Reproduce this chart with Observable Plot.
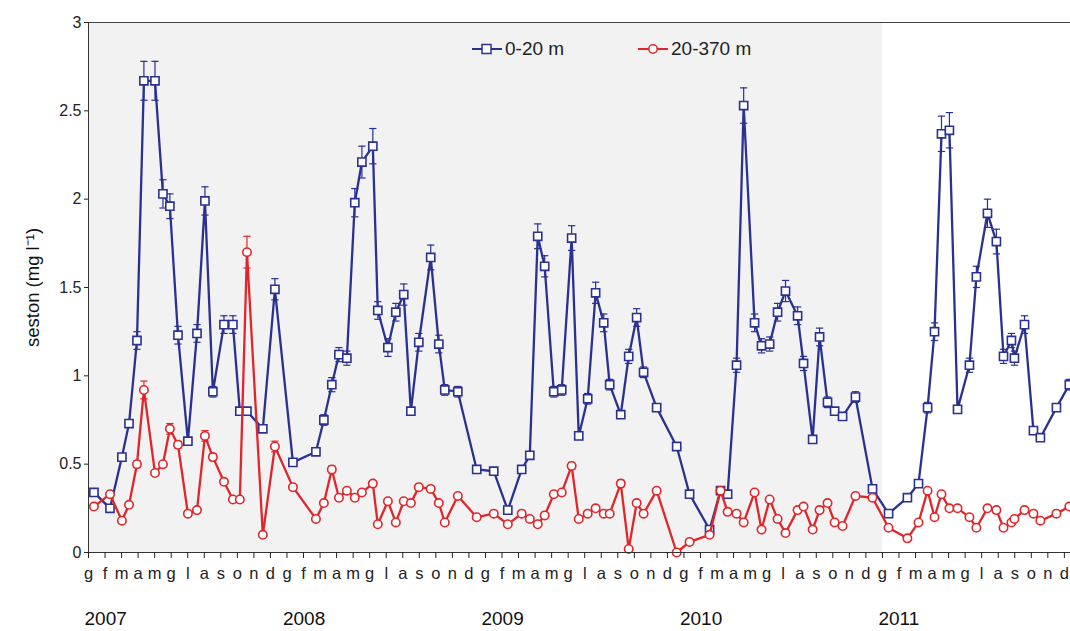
<!DOCTYPE html>
<html>
<head>
<meta charset="utf-8">
<script src="https://cdn.jsdelivr.net/npm/d3@7"></script>
<script src="https://cdn.jsdelivr.net/npm/@observablehq/plot@0.6"></script>
<style>
  html, body { margin: 0; padding: 0; background: #fff; }
  #wrap { position: relative; width: 1070px; height: 631px; font-family: "Liberation Sans", Arial, sans-serif; }
  #legend { position: absolute; top: 38px; left: 0; width: 1070px; height: 30px; font-size: 19px; color: #222; }
  .item { position: absolute; display: flex; align-items: center; }
  .item svg { margin-right: 3px; }
</style>
</head>
<body>
<div id="wrap">
  <div id="chart"></div>
  <div id="legend">
    <div class="item" style="left:472px"><svg width="30" height="14"><line x1="0" y1="7" x2="30" y2="7" stroke="#2b3190" stroke-width="2"/><rect x="10" y="2.5" width="9" height="9" fill="#fff" stroke="#2b3190" stroke-width="1.5"/></svg><span>0-20 m</span></div>
    <div class="item" style="left:638px"><svg width="30" height="14"><line x1="0" y1="7" x2="30" y2="7" stroke="#e0262b" stroke-width="2"/><circle cx="15" cy="7" r="4.2" fill="#fff" stroke="#e0262b" stroke-width="1.5"/></svg><span>20-370 m</span></div>
  </div>
</div>
<script>
// sampling time, in months since 1 Jan 2007
const sampleMonth = [
  0.33, 1.30, 2.02, 2.45, 2.93, 3.35, 4.02, 4.50, 4.92, 5.41, 6.01, 6.56, 7.04, 7.52, 8.19, 8.73, 9.15, 9.58, 10.54, 11.27, 12.36,
  13.75, 14.23, 14.71, 15.14, 15.62, 16.10, 16.53, 17.19, 17.49, 18.10, 18.58, 19.06, 19.49, 19.97, 20.69, 21.18, 21.54, 22.33, 23.47, 24.50,
  25.35, 26.19, 26.68, 27.16, 27.58, 28.13, 28.61, 29.21, 29.64, 30.18, 30.66, 31.15, 31.51, 32.18, 32.66, 33.14, 33.56, 34.35, 35.56, 36.34,
  37.55, 38.21, 38.64, 39.18, 39.61, 40.27, 40.69, 41.18, 41.66, 42.14, 42.87, 43.23, 43.78, 44.20, 44.68, 45.11, 45.59, 46.37, 47.40, 48.37,
  49.51, 50.18, 50.73, 51.15, 51.57, 52.05, 52.54, 53.26, 53.68, 54.35, 54.89, 55.32, 55.80, 55.98, 56.59, 57.13, 57.55, 58.52, 59.30
];
// seston 0-20 m (mg/l)
const seston0_20 = [
  0.34, 0.25, 0.54, 0.73, 1.20, 2.67, 2.67, 2.03, 1.96, 1.23, 0.63, 1.24, 1.99, 0.91, 1.29, 1.29, 0.80, 0.80, 0.70, 1.49, 0.51,
  0.57, 0.75, 0.95, 1.12, 1.10, 1.98, 2.21, 2.30, 1.37, 1.16, 1.36, 1.46, 0.80, 1.19, 1.67, 1.18, 0.92, 0.91, 0.47, 0.46,
  0.24, 0.47, 0.55, 1.79, 1.62, 0.91, 0.92, 1.78, 0.66, 0.87, 1.47, 1.30, 0.95, 0.78, 1.11, 1.33, 1.02, 0.82, 0.60, 0.33,
  0.13, 0.35, 0.33, 1.06, 2.53, 1.30, 1.17, 1.18, 1.36, 1.48, 1.34, 1.07, 0.64, 1.22, 0.85, 0.80, 0.77, 0.88, 0.36, 0.22,
  0.31, 0.39, 0.82, 1.25, 2.37, 2.39, 0.81, 1.06, 1.56, 1.92, 1.76, 1.11, 1.20, 1.10, 1.29, 0.69, 0.65, 0.82, 0.95
];
const err0_20 = [
  0.01, 0, 0.01, 0.02, 0.05, 0.11, 0.11, 0.08, 0.07, 0.05, 0.01, 0.05, 0.08, 0.03, 0.05, 0.05, 0.02, 0.02, 0.01, 0.06, 0.01,
  0.01, 0.03, 0.04, 0.04, 0.04, 0.08, 0.09, 0.10, 0.05, 0.05, 0.05, 0.06, 0.02, 0.05, 0.07, 0.05, 0.03, 0.03, 0.01, 0.01,
  0.01, 0.01, 0.01, 0.07, 0.06, 0.03, 0.03, 0.07, 0.01, 0.03, 0.06, 0.05, 0.03, 0.02, 0.04, 0.05, 0.03, 0.02, 0.01, 0.01,
  0, 0.01, 0.01, 0.04, 0.10, 0.05, 0.04, 0.04, 0.05, 0.06, 0.05, 0.04, 0.01, 0.05, 0.03, 0.02, 0.02, 0.03, 0.01, 0.01,
  0.01, 0.01, 0.03, 0.05, 0.10, 0.10, 0.02, 0.04, 0.06, 0.08, 0.07, 0.04, 0.04, 0.04, 0.05, 0.01, 0.01, 0.02, 0.03
];
// seston 20-370 m (mg/l)
const seston20_370 = [
  0.26, 0.33, 0.18, 0.27, 0.50, 0.92, 0.45, 0.50, 0.70, 0.61, 0.22, 0.24, 0.66, 0.54, 0.40, 0.30, 0.30, 1.70, 0.10, 0.60, 0.37,
  0.19, 0.28, 0.47, 0.31, 0.35, 0.31, 0.34, 0.39, 0.16, 0.29, 0.17, 0.29, 0.28, 0.37, 0.36, 0.28, 0.17, 0.32, 0.20, 0.22,
  0.16, 0.22, 0.19, 0.16, 0.21, 0.33, 0.34, 0.49, 0.19, 0.22, 0.25, 0.22, 0.22, 0.39, 0.02, 0.28, 0.22, 0.35, 0.00, 0.06,
  0.10, 0.35, 0.23, 0.22, 0.17, 0.34, 0.13, 0.30, 0.19, 0.11, 0.24, 0.26, 0.13, 0.24, 0.28, 0.17, 0.15, 0.32, 0.31, 0.14,
  0.08, 0.17, 0.35, 0.20, 0.33, 0.25, 0.25, 0.20, 0.14, 0.25, 0.24, 0.14, 0.17, 0.19, 0.24, 0.22, 0.18, 0.22, 0.26
];
const err20_370 = [
  0, 0.01, 0, 0.01, 0.02, 0.05, 0.01, 0.01, 0.03, 0.02, 0, 0, 0.03, 0.02, 0.01, 0, 0, 0.09, 0, 0.03, 0.01,
  0, 0.01, 0.02, 0.01, 0.01, 0.01, 0.01, 0.01, 0, 0.01, 0, 0.01, 0.01, 0.01, 0.01, 0.01, 0, 0.01, 0, 0.01,
  0, 0.01, 0, 0, 0.01, 0.01, 0.01, 0.02, 0, 0.01, 0.01, 0.01, 0, 0.02, 0, 0.01, 0, 0.01, 0, 0,
  0, 0.01, 0.01, 0.01, 0, 0.01, 0, 0.01, 0, 0, 0.01, 0.01, 0, 0.01, 0.01, 0, 0, 0.01, 0.01, 0,
  0, 0, 0.01, 0, 0.01, 0, 0.01, 0, 0, 0.01, 0, 0, 0, 0, 0.01, 0, 0, 0, 0.01
];
const monthLetters = ["g", "f", "m", "a", "m", "g", "l", "a", "s", "o", "n", "d"];
const years = ["2007", "2008", "2009", "2010", "2011"];
const yTicks = [0, 0.5, 1, 1.5, 2, 2.5, 3];
const shadedPeriod = [{from: 0, to: 48}];

const BLUE = "#2b3190", RED = "#e0262b";
const rows = sampleMonth.map((t, i) => ({
  t, blue: seston0_20[i], be: err0_20[i], red: seston20_370[i], re: err20_370[i]
}));
const yearRows = years.map((y, i) => ({label: y, t: i * 12}));
const capW = 0.22;

function errMarks(key, ekey, color) {
  const withErr = rows.filter(d => d[ekey] > 0);
  return [
    Plot.ruleX(withErr, {x: "t", y1: d => d[key] - d[ekey], y2: d => d[key] + d[ekey], stroke: color, strokeWidth: 1.2}),
    Plot.link(withErr, {x1: d => d.t - capW, x2: d => d.t + capW, y1: d => d[key] + d[ekey], y2: d => d[key] + d[ekey], stroke: color, strokeWidth: 1.2}),
    Plot.link(withErr, {x1: d => d.t - capW, x2: d => d.t + capW, y1: d => d[key] - d[ekey], y2: d => d[key] - d[ekey], stroke: color, strokeWidth: 1.2})
  ];
}

const chart = Plot.plot({
  width: 1070,
  height: 631,
  marginLeft: 88,
  marginRight: 0,
  marginTop: 22,
  marginBottom: 79,
  style: {fontFamily: "'Liberation Sans', Arial, sans-serif", color: "#222", background: "transparent", overflow: "visible"},
  x: {domain: [0, 59.37]},
  y: {domain: [0, 3]},
  marks: [
    Plot.rect(shadedPeriod, {x1: "from", x2: "to", y1: 0, y2: 3, fill: "#f2f2f2"}),
    Plot.ruleY([3], {stroke: "#444", strokeWidth: 1}),
    ...errMarks("blue", "be", BLUE),
    Plot.line(rows, {x: "t", y: "blue", stroke: BLUE, strokeWidth: 2.3}),
    Plot.dot(rows, {x: "t", y: "blue", symbol: "square", r: 4.6, fill: "#fff", stroke: BLUE, strokeWidth: 1.6}),
    ...errMarks("red", "re", RED),
    Plot.line(rows, {x: "t", y: "red", stroke: RED, strokeWidth: 2.3}),
    Plot.dot(rows, {x: "t", y: "red", r: 4.2, fill: "#fff", stroke: RED, strokeWidth: 1.6}),
    Plot.ruleX([0], {stroke: "#333", strokeWidth: 1}),
    Plot.ruleY([0], {stroke: "#333", strokeWidth: 1}),
    Plot.axisX({
      ticks: d3.range(0, 60),
      tickFormat: i => monthLetters[i % 12],
      tickSize: 6,
      tickPadding: 9,
      fontSize: 16.5,
      label: null
    }),
    Plot.axisY({
      ticks: yTicks,
      tickFormat: d => String(d),
      tickSize: 4,
      tickPadding: 3,
      fontSize: 16,
      label: null
    }),
    Plot.text(["seston (mg l⁻¹)"], {frameAnchor: "left", rotate: -90, dx: -55, textAnchor: "middle", fontSize: 18.5, fill: "#111"}),
    Plot.text(yearRows, {x: "t", text: "label", frameAnchor: "bottom", dy: 72, textAnchor: "start", dx: -4, fontSize: 19, fill: "#111"})
  ]
});
document.getElementById("chart").appendChild(chart);
</script>
</body>
</html>
